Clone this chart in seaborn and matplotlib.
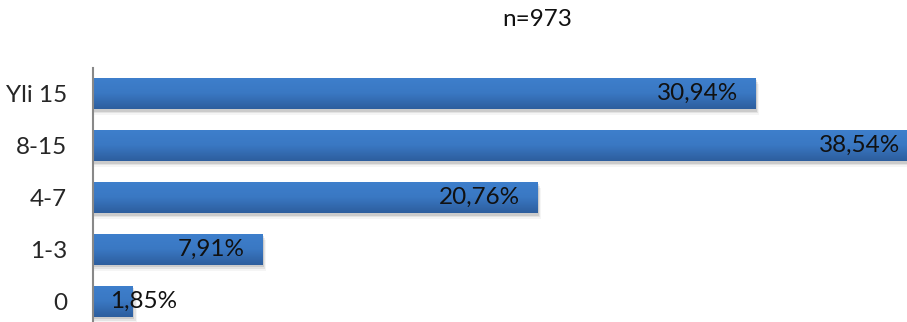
import numpy as np
import pandas as pd
import matplotlib
matplotlib.use("Agg")
import matplotlib.pyplot as plt
import seaborn as sns
from matplotlib.colors import LinearSegmentedColormap
from matplotlib.patches import Rectangle

categories = ["Yli 15", "8-15", "4-7", "1-3", "0"]
values = [30.94, 38.54, 20.76, 7.91, 1.85]
labels = ["30,94%", "38,54%", "20,76%", "7,91%", "1,85%"]
title = "n=973"

sns.set_style("white")
plt.rcParams['font.family'] = ['Lato', 'DejaVu Sans']

W, H = 907, 322
fig = plt.figure(figsize=(W / 100, H / 100), dpi=100)
ax_left = 92.7 / W
ax_top = 1 - 68 / H
ax = fig.add_axes([ax_left, 0.0, 1 - ax_left, ax_top])

df = pd.DataFrame({"cat": categories, "val": values})
sns.barplot(data=df, y="cat", x="val", orient="h", ax=ax, width=0.6,
            color="#3670B8", saturation=1, edgecolor="none")

cmap = LinearSegmentedColormap.from_list("g", ["#3E7FCC", "#3A78C3", "#2D5E9E"])
grad = np.linspace(0, 1, 64).reshape(-1, 1)
for p in list(ax.patches):
    x0, y0 = p.get_x(), p.get_y()
    w, h = p.get_width(), p.get_height()
    for k, a in enumerate([0.10, 0.07, 0.04]):
        off = 0.05 + 0.035 * k
        sh = Rectangle((x0, y0 + off), w + 0.10 + 0.05 * k, h, facecolor="black",
                       alpha=a, edgecolor="none", zorder=p.get_zorder() - 0.5)
        ax.add_patch(sh)
    im = ax.imshow(grad, extent=[x0, x0 + w, y0 + h, y0], cmap=cmap,
                   aspect="auto", zorder=p.get_zorder() + 0.1, interpolation="bicubic")
    im.set_clip_path(p)
ax.set_xlim(0, (W - 92.7) / 21.4)
ax.set_ylim(4.40, -0.49)

fs = 17.5
for i, (v, lab) in enumerate(zip(values, labels)):
    if v > 4.6:
        ax.text(v - 0.8, i, lab, ha="right", va="center", fontsize=fs,
                color="#111111", zorder=10)
    else:
        ax.text(0.8, i, lab, ha="left", va="center", fontsize=fs,
                color="#111111", zorder=10)

ax.set_xlabel("")
ax.set_ylabel("")
ax.set_xticks([])
ax.tick_params(axis="y", length=0, pad=18.5, labelsize=fs)
for s in ["top", "right", "bottom"]:
    ax.spines[s].set_visible(False)
ax.spines["left"].set_color("#888888")
ax.spines["left"].set_linewidth(1.5)
ax.spines["left"].set_zorder(20)

fig.text(537 / W, 1 - 20 / H, title, ha="center", va="center", fontsize=fs,
         color="#111111")

fig.savefig("out.png", dpi=100)
